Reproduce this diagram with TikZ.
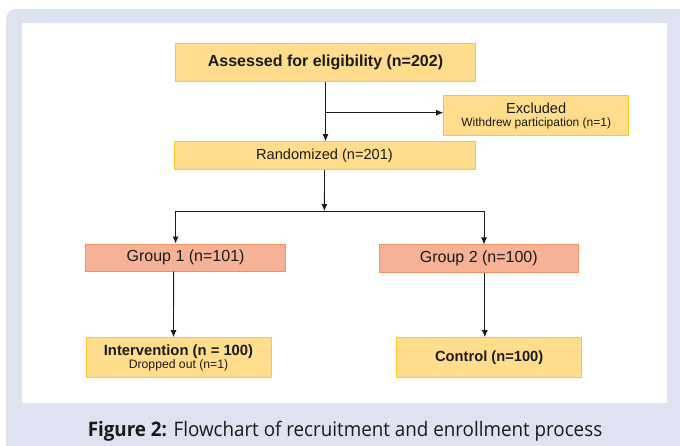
\documentclass[tikz,border=0pt]{standalone}
\usepackage{fontspec}
\setmainfont{Liberation Sans}
\newfontfamily\capfont[FakeStretch=0.94]{Open Sans}
\usetikzlibrary{arrows.meta}
\definecolor{lav}{HTML}{DFE2F0}
\definecolor{yfill}{HTML}{FFDD8C}
\definecolor{ydraw}{HTML}{FFC629}
\definecolor{sfill}{HTML}{F6B297}
\definecolor{sdraw}{HTML}{F4915E}
\definecolor{ink}{HTML}{1A1A1A}
\tikzset{
  ybox/.style={draw=ydraw, fill=yfill, line width=1pt, inner sep=0pt, align=center, text=ink},
  sbox/.style={draw=sdraw, fill=sfill, line width=1pt, inner sep=0pt, align=center, text=ink},
  arr/.style={draw=ink, line width=0.9pt, -{Latex[length=7pt,width=6pt]}},
  ln/.style={draw=ink, line width=0.9pt},
}
\newcommand{\fs}[1]{\fontsize{#1}{#1}\selectfont}
\begin{document}
\begin{tikzpicture}[x=1pt,y=-1pt]
\useasboundingbox (0,0) rectangle (680,445);
\begin{scope}
\clip (0,0) rectangle (680,445);
\fill[lav, rounded corners=10pt] (6,9) rectangle (700,470);
\fill[white] (22,23) rectangle (666.5,402.7);
\end{scope}

\node[ybox, minimum width=300pt, minimum height=38pt] (ass) at (325.5,62)
  {\fs{16}\bfseries Assessed for eligibility (n=202)};
\node[ybox, minimum width=185pt, minimum height=40pt] (exc) at (536.2,115.7)
  {\fs{14.6}Excluded\\[1pt]\fs{12}Withdrew participation (n=1)};
\node[ybox, minimum width=301pt, minimum height=27.6pt] (ran) at (324.5,155.5)
  {\fs{14.6}Randomized (n=201)};
\node[sbox, minimum width=199.3pt, minimum height=27pt] (g1) at (185.6,257.5)
  {\fs{16}Group 1 (n=101)};
\node[sbox, minimum width=199.5pt, minimum height=27.7pt] (g2) at (478.8,258.8)
  {\fs{16}Group 2 (n=100)};
\node[ybox, minimum width=185pt, minimum height=40pt] (int) at (178.5,357.7)
  {\fs{14.8}\bfseries Intervention (n = 100)\\[1pt]\fs{12.2}Dropped out (n=1)};
\node[ybox, minimum width=184.5pt, minimum height=40pt] (ctl) at (489.2,357.7)
  {\fs{14.7}\bfseries Control (n=100)};

\coordinate (b1) at (325,112.7);
\coordinate (j) at (324.4,211);
\coordinate (jl) at (175.6,211);
\coordinate (jr) at (484,211);

\draw[arr] (ass.south) -- (ass.south |- ran.north);
\draw[arr] (b1) -- (b1 -| exc.west);
\draw[arr] (ran.south) -- (j);
\draw[ln] (jl) -- (jr);
\draw[arr] (jl) -- (jl |- g1.north);
\draw[arr] (jr) -- (jr |- g2.north);
\draw[arr] ([xshift=-12pt]g1.south) -- ([xshift=-5pt]int.north);
\draw[arr] ([xshift=6pt]g2.south) -- ([xshift=-4.4pt]ctl.north);

\node[anchor=base, inner sep=0pt, text=ink] (cap) at (345,436) {\capfont\fs{20}\textbf{Figure 2:} Flowchart of recruitment and enrollment process};
\end{tikzpicture}
\end{document}
